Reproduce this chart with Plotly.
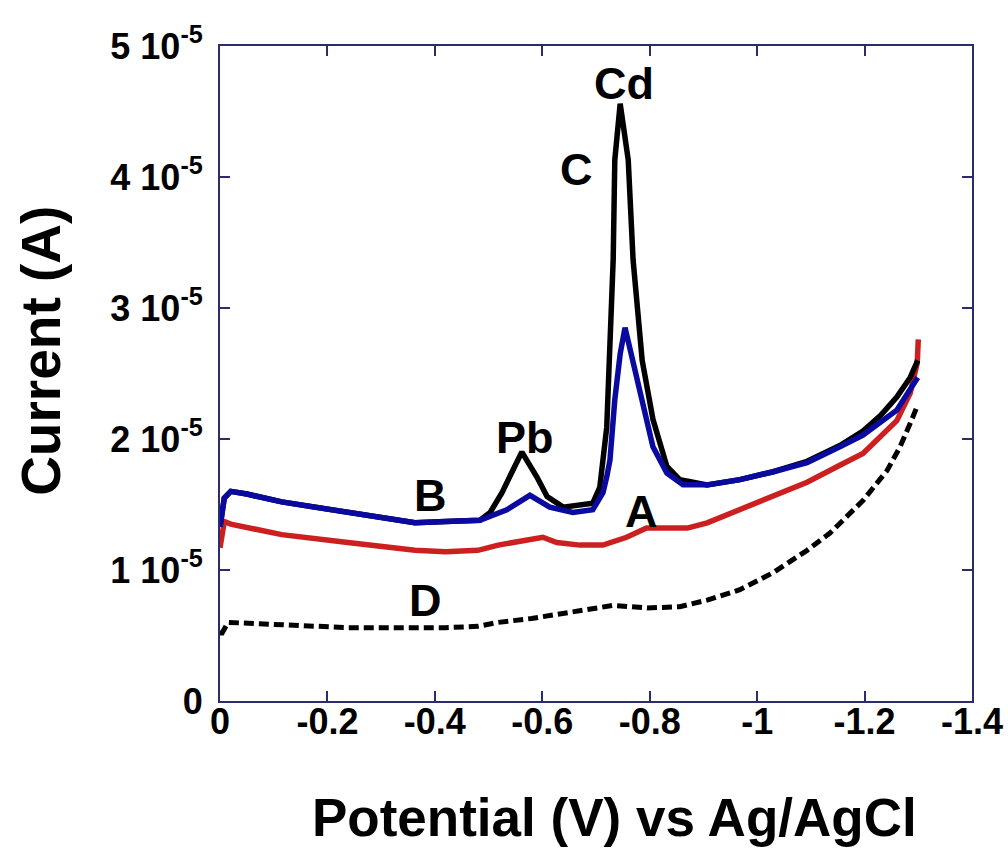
import plotly.graph_objects as go

# ---- data (potential in V, current in A) ----
b_x = [0.000, -0.008, -0.020, -0.050, -0.115, -0.238, -0.363, -0.420, -0.484, -0.534, -0.577,
       -0.614, -0.657, -0.694, -0.713, -0.720, -0.726, -0.735, -0.745, -0.754, -0.769, -0.782,
       -0.795, -0.806, -0.832, -0.862, -0.907, -0.968, -1.030, -1.093, -1.154, -1.197, -1.260,
       -1.285, -1.299]
b_y = [1.33e-5, 1.55e-5, 1.60e-5, 1.58e-5, 1.52e-5, 1.44e-5, 1.36e-5, 1.37e-5, 1.38e-5, 1.46e-5, 1.57e-5,
       1.48e-5, 1.44e-5, 1.46e-5, 1.59e-5, 1.71e-5, 1.84e-5, 2.30e-5, 2.65e-5, 2.85e-5, 2.60e-5, 2.35e-5,
       2.15e-5, 1.94e-5, 1.74e-5, 1.65e-5, 1.65e-5, 1.69e-5, 1.75e-5, 1.82e-5, 1.94e-5, 2.03e-5, 2.22e-5,
       2.37e-5, 2.47e-5]

c_x = [0.000, -0.008, -0.020, -0.050, -0.115, -0.238, -0.363, -0.420, -0.484, -0.503, -0.525, -0.545,
       -0.562, -0.590, -0.609, -0.639, -0.694, -0.707, -0.713, -0.720, -0.732, -0.735, -0.745,
       -0.760, -0.769, -0.786, -0.806, -0.832, -0.856, -0.907, -0.968, -1.030, -1.093, -1.154,
       -1.197, -1.230, -1.260, -1.285, -1.299]
c_y = [1.33e-5, 1.55e-5, 1.60e-5, 1.58e-5, 1.52e-5, 1.44e-5, 1.36e-5, 1.37e-5, 1.38e-5, 1.44e-5, 1.59e-5, 1.76e-5,
       1.90e-5, 1.71e-5, 1.56e-5, 1.48e-5, 1.51e-5, 1.63e-5, 1.84e-5, 2.09e-5, 3.37e-5, 4.13e-5, 4.56e-5,
       4.13e-5, 3.37e-5, 2.60e-5, 2.15e-5, 1.79e-5, 1.69e-5, 1.65e-5, 1.69e-5, 1.75e-5, 1.83e-5, 1.95e-5,
       2.06e-5, 2.18e-5, 2.32e-5, 2.47e-5, 2.60e-5]

a_x = [0.000, -0.008, -0.020, -0.115, -0.238, -0.363, -0.420, -0.480, -0.518, -0.565, -0.601, -0.627,
       -0.670, -0.713, -0.757, -0.794, -0.850, -0.870, -0.907, -0.968, -1.030, -1.093, -1.154, -1.197,
       -1.260, -1.285, -1.298, -1.300]
a_y = [1.17e-5, 1.37e-5, 1.35e-5, 1.27e-5, 1.21e-5, 1.15e-5, 1.14e-5, 1.15e-5, 1.19e-5, 1.23e-5, 1.25e-5, 1.21e-5,
       1.19e-5, 1.19e-5, 1.25e-5, 1.32e-5, 1.32e-5, 1.32e-5, 1.36e-5, 1.46e-5, 1.57e-5, 1.67e-5, 1.80e-5, 1.89e-5,
       2.14e-5, 2.35e-5, 2.58e-5, 2.76e-5]

d_x = [0.000, -0.004, -0.015, -0.115, -0.238, -0.363, -0.420, -0.480, -0.518, -0.580, -0.640, -0.703,
       -0.732, -0.795, -0.856, -0.907, -0.968, -1.030, -1.093, -1.135, -1.154, -1.197, -1.242, -1.266,
       -1.285, -1.299]
d_y = [0.52e-5, 0.52e-5, 0.60e-5, 0.58e-5, 0.56e-5, 0.56e-5, 0.56e-5, 0.57e-5, 0.60e-5, 0.63e-5, 0.67e-5, 0.72e-5,
       0.73e-5, 0.71e-5, 0.72e-5, 0.77e-5, 0.85e-5, 0.98e-5, 1.15e-5, 1.28e-5, 1.36e-5, 1.53e-5, 1.76e-5, 1.94e-5,
       2.12e-5, 2.26e-5]

x_ticks = [0, -0.2, -0.4, -0.6, -0.8, -1.0, -1.2, -1.4]
x_tick_labels = ["0", "-0.2", "-0.4", "-0.6", "-0.8", "-1", "-1.2", "-1.4"]
y_ticks = [0, 1e-5, 2e-5, 3e-5, 4e-5, 5e-5]
y_tick_labels = ["0", "1 10<sup>-5</sup>", "2 10<sup>-5</sup>", "3 10<sup>-5</sup>",
                 "4 10<sup>-5</sup>", "5 10<sup>-5</sup>"]

labels = ["Cd", "C", "Pb", "B", "A", "D"]
label_x = [-0.752, -0.664, -0.568, -0.392, -0.784, -0.383]
label_y = [4.71e-5, 4.06e-5, 2.01e-5, 1.57e-5, 1.45e-5, 0.77e-5]

x_title = "Potential (V) vs Ag/AgCl"
y_title = "Current (A)"

FONT = "Liberation Sans, Arial, sans-serif"
NAVY = "#2c2c6c"

fig = go.Figure()
fig.add_trace(go.Scatter(x=d_x, y=d_y, mode="lines",
                         line=dict(color="black", width=5, dash="10px,5px")))
fig.add_trace(go.Scatter(x=a_x, y=a_y, mode="lines", line=dict(color="#cc1f1f", width=5.5)))
fig.add_trace(go.Scatter(x=c_x, y=c_y, mode="lines", line=dict(color="black", width=5.5)))
fig.add_trace(go.Scatter(x=b_x, y=b_y, mode="lines", line=dict(color="#0a0aa0", width=5.5)))

for t, xx, yy in zip(labels, label_x, label_y):
    fig.add_annotation(x=xx, y=yy, text=t, showarrow=False,
                       font=dict(family=FONT, size=45, color="black", weight="bold"))

# axis titles as paper annotations (placed like the reference)
fig.add_annotation(xref="paper", yref="paper", x=-0.239, y=0.535, text=y_title,
                   textangle=-90, showarrow=False, xanchor="center", yanchor="middle",
                   font=dict(family=FONT, size=55, color="black", weight="bold"))
fig.add_annotation(xref="paper", yref="paper", x=0.525, y=-0.178, text=x_title,
                   showarrow=False, xanchor="center", yanchor="middle",
                   font=dict(family=FONT, size=53, color="black", weight="bold"))

fig.update_layout(
    width=1008, height=854,
    margin=dict(l=220, r=36, t=46, b=153),
    plot_bgcolor="white", paper_bgcolor="white",
    showlegend=False,
    font=dict(family=FONT, color="black", weight="bold"),
)
fig.update_xaxes(
    range=[0, -1.4], tickvals=x_ticks, ticktext=x_tick_labels,
    ticks="inside", ticklen=10, tickwidth=2, tickcolor=NAVY,
    showline=True, linecolor=NAVY, linewidth=2, mirror="ticks",
    showgrid=False, zeroline=False, automargin=False, ticklabelstandoff=-12,
    tickfont=dict(family=FONT, size=36, color="black", weight="bold"),
)
fig.update_yaxes(
    range=[0, 5e-5], tickvals=y_ticks, ticktext=y_tick_labels,
    ticks="inside", ticklen=10, tickwidth=2, tickcolor=NAVY,
    showline=True, linecolor=NAVY, linewidth=2, mirror="ticks",
    showgrid=False, zeroline=False, automargin=False, ticklabelstandoff=8,
    tickfont=dict(family=FONT, size=36, color="black", weight="bold"),
)

fig.write_html("out.html", config={"displayModeBar": False},
               post_script="document.body.style.margin='0';document.body.style.overflow='hidden';")
